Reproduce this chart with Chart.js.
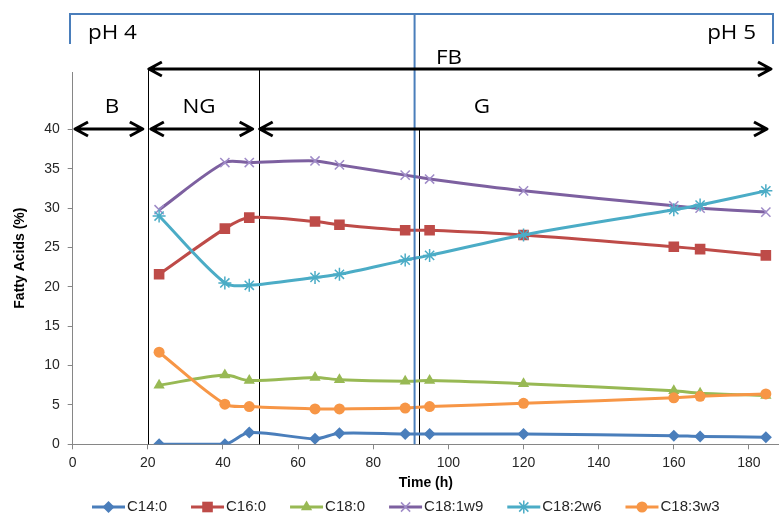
<!DOCTYPE html>
<html>
<head>
<meta charset="utf-8">
<script src="https://cdn.jsdelivr.net/npm/chart.js@4/dist/chart.umd.min.js"></script>
<style>
  html, body { margin: 0; padding: 0; background: #fff; }
</style>
</head>
<body>
<canvas id="grafica" width="779" height="514"></canvas>
<script>
// Datos
const hours = [23, 40.5, 47, 64.5, 71, 88.5, 95, 120, 160, 167, 184.5];
const seriesNames = ['C14:0', 'C16:0', 'C18:0', 'C18:1w9', 'C18:2w6', 'C18:3w3'];
const c14_0   = [0, 0, 1.5, 0.7, 1.4, 1.3, 1.3, 1.3, 1.1, 1.0, 0.9];
const c16_0   = [21.6, 27.4, 28.8, 28.3, 27.9, 27.2, 27.2, 26.6, 25.1, 24.8, 24.0];
const c18_0   = [7.5, 8.8, 8.1, 8.5, 8.2, 8.0, 8.1, 7.7, 6.8, 6.5, 6.2];
const c18_1w9 = [29.8, 35.8, 35.8, 36.0, 35.5, 34.2, 33.7, 32.2, 30.3, 30.0, 29.5];
const c18_2w6 = [29.0, 20.5, 20.2, 21.2, 21.6, 23.4, 24.0, 26.6, 29.8, 30.4, 32.2];
const c18_3w3 = [11.7, 5.1, 4.8, 4.5, 4.5, 4.6, 4.8, 5.2, 5.9, 6.1, 6.4];
const xTicks = [0, 20, 40, 60, 80, 100, 120, 140, 160, 180];
const yTicks = [0, 5, 10, 15, 20, 25, 30, 35, 40];

// Fases del cultivo (en horas)
const fbStart = 20;
const ngEnd = 49.5;
const phSwitch = 91;
const gLine = 92.2;

const FONT = '"Liberation Sans", Arial, sans-serif';
const NOTE_FONT = '"Open Sans", "Noto Sans", sans-serif';

const estilos = [
    { color: '#4A7EBB', point: 'rectRot', radius: 6, border: '#4A7EBB' },
    { color: '#BE4B48', point: 'rect', radius: 7.5, border: '#BE4B48' },
    { color: '#98B954', point: 'triangle', radius: 6.5, border: '#98B954' },
    { color: '#7D60A0', point: 'crossRot', radius: 6.5, border: '#A08CC8' },
    { color: '#4BACC6', point: 'star', radius: 6.5, border: '#4BACC6' },
    { color: '#F79646', point: 'circle', radius: 5.5, border: '#F79646' }
];
const valores = [c14_0, c16_0, c18_0, c18_1w9, c18_2w6, c18_3w3];

const datasets = seriesNames.map((nombre, i) => ({
    label: nombre,
    data: hours.map((h, j) => ({ x: h, y: valores[i][j] })),
    borderColor: estilos[i].color,
    backgroundColor: estilos[i].color,
    borderWidth: 3,
    tension: 0.3,
    pointStyle: estilos[i].point,
    pointRadius: estilos[i].radius,
    pointBackgroundColor: estilos[i].color,
    pointBorderColor: estilos[i].border,
    pointBorderWidth: (estilos[i].point === 'crossRot' || estilos[i].point === 'star') ? 1.5 : 0,
    order: seriesNames.length - i
}));

function flecha(ctx, x1, x2, y, izq, der) {
    ctx.beginPath();
    ctx.moveTo(x1, y);
    ctx.lineTo(x2, y);
    if (izq) {
        ctx.moveTo(x1 + 13, y - 7); ctx.lineTo(x1, y); ctx.lineTo(x1 + 13, y + 7);
    }
    if (der) {
        ctx.moveTo(x2 - 13, y - 7); ctx.lineTo(x2, y); ctx.lineTo(x2 - 13, y + 7);
    }
    ctx.stroke();
}

function texto(ctx, t, x, y, align) {
    ctx.save();
    ctx.translate(x, y);
    ctx.scale(1.12, 1);
    ctx.textAlign = align;
    ctx.textBaseline = 'middle';
    ctx.fillText(t, 0, 0);
    ctx.restore();
}

// Líneas verticales de las fases (detrás de las series)
const fasesPlugin = {
    id: 'fases',
    beforeDatasetsDraw(chart) {
        const { ctx, scales: { x, y } } = chart;
        const base = y.getPixelForValue(0);
        ctx.save();
        ctx.strokeStyle = '#000';
        ctx.lineWidth = 1;
        [[fbStart, 69], [ngEnd, 69], [gLine, 130]].forEach(([h, top]) => {
            const px = Math.round(x.getPixelForValue(h)) + 0.5;
            ctx.beginPath(); ctx.moveTo(px, top); ctx.lineTo(px, base); ctx.stroke();
        });
        ctx.restore();
    },
    afterDraw(chart) {
        const { ctx, scales: { x, y } } = chart;
        const base = y.getPixelForValue(0);
        ctx.save();
        // Corchete azul del pH
        ctx.strokeStyle = '#4A7EBB';
        ctx.lineWidth = 2;
        const pxPh = x.getPixelForValue(phSwitch);
        ctx.beginPath();
        ctx.moveTo(70, 44); ctx.lineTo(70, 14); ctx.lineTo(773, 14); ctx.lineTo(773, 44);
        ctx.moveTo(pxPh, 14); ctx.lineTo(pxPh, base);
        ctx.stroke();

        // Flechas
        ctx.strokeStyle = '#000';
        ctx.lineWidth = 3;
        ctx.lineJoin = 'round';
        flecha(ctx, x.getPixelForValue(fbStart) + 1, 771, 69, true, true);
        flecha(ctx, 75, x.getPixelForValue(fbStart) - 5, 129, true, true);
        flecha(ctx, x.getPixelForValue(fbStart) + 3, x.getPixelForValue(ngEnd) - 6, 129, true, true);
        flecha(ctx, x.getPixelForValue(ngEnd) + 1, 767, 129, true, true);

        // Textos
        ctx.fillStyle = '#000';
        ctx.font = '20px ' + NOTE_FONT;
        texto(ctx, 'pH 4', 88, 33, 'left');
        texto(ctx, 'pH 5', 756, 33, 'right');
        texto(ctx, 'FB', 449, 58, 'center');
        texto(ctx, 'B', 112, 107, 'center');
        texto(ctx, 'NG', 199, 107, 'center');
        texto(ctx, 'G', 482, 107, 'center');

        // Leyenda
        ctx.font = '15px ' + FONT;
        ctx.textBaseline = 'middle';
        ctx.textAlign = 'left';
        let lx = 92;
        const ly = 507;
        chart.data.datasets.forEach((ds) => {
            ctx.strokeStyle = ds.borderColor;
            ctx.lineWidth = 3;
            ctx.beginPath(); ctx.moveTo(lx, ly); ctx.lineTo(lx + 33, ly); ctx.stroke();
            ctx.fillStyle = ds.pointBackgroundColor;
            ctx.strokeStyle = ds.pointBorderColor;
            ctx.lineWidth = ds.pointBorderWidth || 0;
            Chart.helpers.drawPoint(ctx, {
                pointStyle: ds.pointStyle,
                radius: ds.pointRadius,
                rotation: 0,
                borderWidth: ds.pointBorderWidth || 0
            }, lx + 16.5, ly);
            ctx.fillStyle = '#262626';
            ctx.fillText(ds.label, lx + 35, ly);
            lx += 35 + ctx.measureText(ds.label).width + 24;
        });
        ctx.restore();
    }
};

new Chart(document.getElementById('grafica').getContext('2d'), {
    type: 'line',
    data: { datasets: datasets },
    options: {
        responsive: false,
        animation: false,
        layout: { autoPadding: false, padding: { top: 72, right: 0, bottom: 22, left: 0 } },
        plugins: {
            legend: { display: false },
            tooltip: { enabled: false }
        },
        scales: {
            x: {
                type: 'linear',
                min: 0,
                max: 188,
                afterBuildTicks: (s) => { s.ticks = xTicks.map(v => ({ value: v })); },
                afterFit: (s) => { s.height = 47.7; s.paddingRight = 0; s.paddingLeft = 0; },
                grid: { drawOnChartArea: false, tickLength: 5, color: '#868686' },
                border: { color: '#868686' },
                ticks: { padding: 5, maxRotation: 0, color: '#262626', font: { family: FONT, size: 14 } },
                title: {
                    display: true, text: 'Time (h)', color: '#000',
                    font: { family: FONT, size: 14, weight: 'bold' },
                    padding: { top: 0, bottom: 0 }
                }
            },
            y: {
                min: 0,
                max: 47.3,
                afterBuildTicks: (s) => { s.ticks = yTicks.map(v => ({ value: v })); },
                afterFit: (s) => { s.width = 72.7; },
                grid: { drawOnChartArea: false, tickLength: 5, color: '#868686' },
                border: { color: '#868686' },
                ticks: { padding: 8, color: '#262626', font: { family: FONT, size: 14 } },
                title: {
                    display: true, text: 'Fatty Acids (%)', color: '#000',
                    font: { family: FONT, size: 14, weight: 'bold' },
                    padding: { top: 12, bottom: 0 }
                }
            }
        }
    },
    plugins: [fasesPlugin]
});
</script>
</body>
</html>
